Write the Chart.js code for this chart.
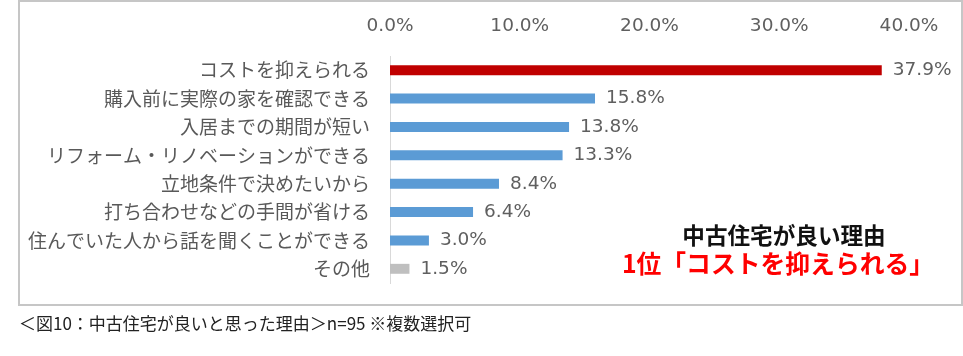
<!DOCTYPE html>
<html lang="ja">
<head>
<meta charset="utf-8">
<script src="https://cdn.jsdelivr.net/npm/chart.js@4/dist/chart.umd.min.js"></script>
<style>
  html, body { margin: 0; padding: 0; background: #fff; }
  #wrap { position: relative; width: 963px; height: 356px; overflow: hidden; font-family: "Noto Sans CJK JP", sans-serif; }
  #box { position: absolute; left: 18px; top: 0px; width: 941px; height: 302px; border: 2px solid #c6c6c6; }
  #cv { position: absolute; left: 0; top: 0; }
  .ann { position: absolute; white-space: nowrap; font-weight: bold; transform: translate(-50%, -50%); line-height: 1; }
  #ann1 { left: 784px; top: 235px; font-size: 22.6px; color: #111; }
  #ann2 { left: 778px; top: 262px; font-size: 24.8px; color: #ff0000; }
  #note { position: absolute; left: 19px; top: 322px; transform: translateY(-50%); font-size: 17px; color: #222; white-space: nowrap; line-height: 1; }
</style>
</head>
<body>
<div id="wrap">
  <div id="box"></div>
  <canvas id="cv" width="963" height="356"></canvas>
  <div class="ann" id="ann1">中古住宅が良い理由</div>
  <div class="ann" id="ann2">1位「コストを抑えられる」</div>
  <div id="note">＜図10：中古住宅が良いと思った理由＞n=95 ※複数選択可</div>
</div>
<script>
const categories = [
  "コストを抑えられる",
  "購入前に実際の家を確認できる",
  "入居までの期間が短い",
  "リフォーム・リノベーションができる",
  "立地条件で決めたいから",
  "打ち合わせなどの手間が省ける",
  "住んでいた人から話を聞くことができる",
  "その他"
];
const values = [37.9, 15.8, 13.8, 13.3, 8.4, 6.4, 3.0, 1.5];
const barColors = ["#c00000", "#5b9bd5", "#5b9bd5", "#5b9bd5", "#5b9bd5", "#5b9bd5", "#5b9bd5", "#bfbfbf"];
const xTicks = [0, 10, 20, 30, 40];

const FONT = '"Noto Sans CJK JP", sans-serif';
const NUMFONT = '"DejaVu Sans", "Noto Sans CJK JP", sans-serif';

const valueLabels = {
  id: 'valueLabels',
  afterDatasetsDraw(chart) {
    const ctx = chart.ctx;
    const meta = chart.getDatasetMeta(0);
    ctx.save();
    ctx.font = '18.5px ' + NUMFONT;
    ctx.fillStyle = '#5f5f5f';
    ctx.textAlign = 'left';
    ctx.textBaseline = 'middle';
    meta.data.forEach((bar, i) => {
      ctx.fillText(values[i].toFixed(1) + '%', bar.x + 11, bar.y);
    });
    ctx.restore();
  }
};

new Chart(document.getElementById('cv'), {
  type: 'bar',
  data: {
    labels: categories,
    datasets: [{
      data: values,
      backgroundColor: barColors,
      borderWidth: 0,
      categoryPercentage: 1,
      barPercentage: 0.35
    }]
  },
  options: {
    indexAxis: 'y',
    responsive: false,
    animation: false,
    events: [],
    layout: { padding: { left: 0, right: 54, top: 0, bottom: 73 } },
    plugins: { legend: { display: false }, tooltip: { enabled: false } },
    scales: {
      x: {
        position: 'top',
        min: 0, max: 40,
        afterBuildTicks: (scale) => { scale.ticks = xTicks.map(v => ({ value: v })); },
        afterFit: (scale) => { scale.height = 56; },
        grid: { display: false, drawTicks: false },
        border: { display: false },
        ticks: {
          padding: 19,
          color: '#5f5f5f',
          font: { family: NUMFONT, size: 18.5 },
          callback: (v) => Number(v).toFixed(1) + '%'
        }
      },
      y: {
        afterFit: (scale) => { scale.width = 390; },
        grid: { display: false, drawTicks: false },
        border: { display: true, color: '#d9d9d9', width: 1 },
        ticks: {
          padding: 20,
          color: '#595959',
          font: { family: FONT, size: 19 }
        }
      }
    }
  },
  plugins: [valueLabels]
});
</script>
</body>
</html>
